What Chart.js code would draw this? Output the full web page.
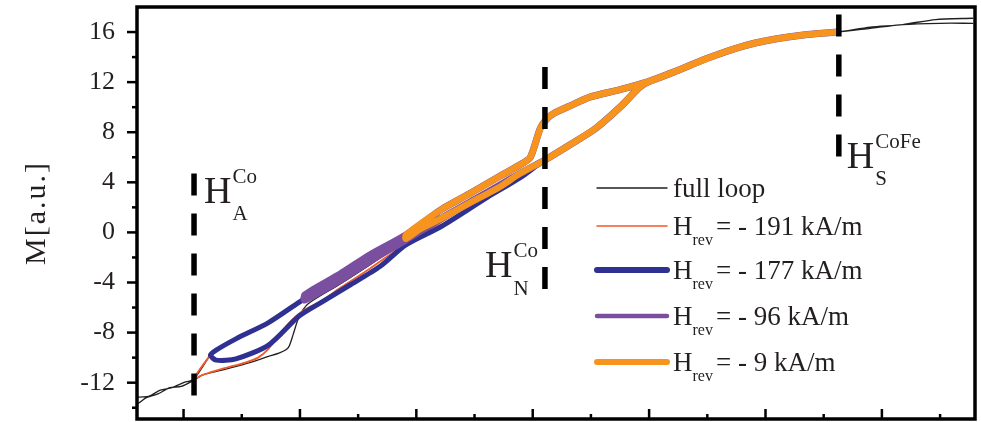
<!DOCTYPE html>
<html>
<head>
<meta charset="utf-8">
<title>M(H) first-order reversal curves</title>
<script src="https://cdn.jsdelivr.net/npm/chart.js@4.4.1/dist/chart.umd.min.js"></script>
<style>
  html, body { margin: 0; padding: 0; background: #fff; }
  #wrap { width: 981px; height: 422px; }
</style>
</head>
<body>
<div id="wrap"><canvas id="mh" width="981" height="422"></canvas></div>
<script>
/* =====================
   DATA  (H in kA/m, M in a.u.)
   ===================== */

// descending branch shared by every curve, from H_S down to -9 kA/m
const branchDownH = [362, 336, 306, 278, 250, 221, 198, 175, 149, 132, 118, 112.5, 106.5, 98, 91, 72, 46, 21, -9];
const branchDownM = [16.0, 15.8, 15.4, 14.8, 13.9, 12.8, 12.0, 11.4, 10.8, 10.1, 9.5, 9.1, 8.3, 6.0, 5.5, 4.5, 3.1, 1.8, -0.2];

// ascending branch shared by every curve, from 109 kA/m back to H_S
const branchUpH = [109, 132, 154, 175, 192, 199, 221, 250, 278, 306, 336, 362];
const branchUpM = [5.7, 7.0, 8.3, 10.0, 11.6, 12.0, 12.8, 13.9, 14.8, 15.4, 15.8, 16.0];

// full loop
const fullTopDownH = [478, 450, 418, 390];
const fullTopDownM = [16.7, 16.7, 16.6, 16.3];
const fullLowDownH = [-40, -65, -98, -127, -155, -172, -177, -191, -200, -210, -220, -230, -240];
const fullLowDownM = [-1.9, -3.4, -5.4, -7.2, -8.5, -9.4, -9.8, -11.7, -12.0, -12.4, -12.6, -13.1, -13.2];
const fullLowUpH = [-240, -232, -222, -212, -202, -191, -184, -167, -147, -127, -117, -110, -106, -101, -93, -65, -40, -9, 21, 61, 89];
const fullLowUpM = [-13.7, -13.2, -12.9, -12.4, -12.3, -11.8, -11.4, -11.0, -10.5, -9.9, -9.6, -9.2, -8.2, -6.8, -5.7, -4.1, -2.6, -0.7, 1.0, 3.3, 4.8];
const fullTopUpH = [390, 418, 446, 478];
const fullTopUpM = [16.4, 16.6, 17.0, 17.1];

// H_rev = -191 kA/m
const redDownH = [-40, -65, -98, -127, -155, -172, -177, -191];
const redDownM = [-1.9, -3.4, -5.4, -7.2, -8.5, -9.4, -9.8, -11.7];
const redUpH = [-184, -167, -147, -136, -127, -118, -110, -98, -82, -65, -40, -9, 21, 61, 89];
const redUpM = [-11.4, -10.9, -10.4, -10.0, -9.3, -8.2, -7.3, -6.3, -5.5, -4.4, -2.9, -0.9, 0.8, 3.2, 4.7];

// H_rev = -177 kA/m
const blueDownH = [-40, -65, -98, -127, -155, -172, -177];
const blueDownM = [-1.9, -3.4, -5.4, -7.2, -8.5, -9.4, -9.8];
const blueUpH = [-172, -155, -127, -101, -82, -57, -31, -9, 21, 61, 89];
const blueUpM = [-10.2, -10.1, -9.0, -6.7, -5.6, -4.2, -2.7, -1.0, 0.45, 2.8, 4.35];

// H_rev = -96 kA/m
const purpleDownH = [-40, -65, -96];
const purpleDownM = [-1.8, -3.3, -5.0];
const purpleUpH = [-96, -65, -40, -9, 21, 61, 89];
const purpleUpM = [-5.4, -3.8, -2.3, -0.6, 1.1, 3.2, 4.7];

// H_rev = -9 kA/m
const orangeUpH = [-9, 3, 21, 46, 72, 89];
const orangeUpM = [-0.5, 0.25, 1.1, 2.35, 3.65, 4.7];

// reversal fields of the legend entries
const revFields = [-191, -177, -96, -9];

// characteristic fields H_A^Co, H_N^Co, H_S^CoFe (dashed markers)
const markerH = [-191, 110.5, 363];
const markerTop = [4.7, 13.2, 17.4];
const markerBottom = [-13.4, -4.8, 5.9];
const markerSup = ['Co', 'Co', 'CoFe'];
const markerSub = ['A', 'N', 'S'];

// axis ticks
const yMajor = [-12, -8, -4, 0, 4, 8, 12, 16];
const yMinor = [-14, -10, -6, -2, 2, 6, 10, 14];
const xMajor = [-200, -100, 0, 100, 200, 300, 400];
const xMinor = [-150, -50, 50, 150, 250, 350, 450];

/* === helpers === */
function path(hs, ms) {
  return hs.map((h, i) => ({ x: h, y: ms[i] }));
}

const SERIF = '"Liberation Serif", "Times New Roman", serif';
const INK = '#231f20';

function curve(label, color, width, hs, ms) {
  return {
    label, data: path(hs, ms),
    showLine: true, borderColor: color, backgroundColor: color,
    borderWidth: width, pointRadius: 0, tension: 0.25, fill: false,
    borderJoinStyle: 'round', borderCapStyle: 'round'
  };
}

const markerSets = markerH.map((h, i) => ({
  label: 'marker' + i,
  data: [{ x: h, y: markerTop[i] }, { x: h, y: markerBottom[i] }],
  showLine: true, borderColor: '#000', borderWidth: 5.5,
  borderDash: [22, 18], pointRadius: 0, fill: false
}));

const series = [
  curve('- 9', '#f7941d', 6.5,
    [...branchDownH, ...orangeUpH, ...branchUpH],
    [...branchDownM, ...orangeUpM, ...branchUpM]),
  curve('- 96', '#7b4fa0', 7,
    [...branchDownH, ...purpleDownH, ...purpleUpH, ...branchUpH],
    [...branchDownM, ...purpleDownM, ...purpleUpM, ...branchUpM]),
  curve('- 177', '#2e3192', 5,
    [...branchDownH, ...blueDownH, ...blueUpH, ...branchUpH],
    [...branchDownM, ...blueDownM, ...blueUpM, ...branchUpM]),
  curve('- 191', '#f15a29', 1.8,
    [...branchDownH, ...redDownH, ...redUpH, ...branchUpH],
    [...branchDownM, ...redDownM, ...redUpM, ...branchUpM]),
  curve('full loop', INK, 1.3,
    [...fullTopDownH, ...branchDownH, ...fullLowDownH, ...fullLowUpH, ...branchUpH, ...fullTopUpH],
    [...fullTopDownM, ...branchDownM, ...fullLowDownM, ...fullLowUpM, ...branchUpM, ...fullTopUpM])
];

/* === frame + ticks (y ticks outward, x ticks inward) === */
const axisFrame = {
  id: 'axisFrame',
  afterDatasetsDraw(chart) {
    const { ctx, chartArea: a, scales: { x, y } } = chart;
    ctx.save();
    ctx.strokeStyle = '#000';
    ctx.lineCap = 'butt';
    ctx.lineWidth = 2.5;
    const seg = (x1, y1, x2, y2) => { ctx.beginPath(); ctx.moveTo(x1, y1); ctx.lineTo(x2, y2); ctx.stroke(); };
    xMajor.forEach(v => { const p = x.getPixelForValue(v); seg(p, a.bottom, p, a.bottom - 10); });
    xMinor.forEach(v => { const p = x.getPixelForValue(v); seg(p, a.bottom, p, a.bottom - 5); });
    yMajor.forEach(v => { const p = y.getPixelForValue(v); seg(a.left, p, a.left - 10, p); });
    yMinor.forEach(v => { const p = y.getPixelForValue(v); seg(a.left, p, a.left - 5, p); });
    ctx.lineWidth = 3.5;
    ctx.strokeRect(a.left, a.top, a.right - a.left, a.bottom - a.top);

    // y title
    ctx.translate(37, (a.top + a.bottom) / 2);
    ctx.rotate(-Math.PI / 2);
    ctx.fillStyle = INK;
    ctx.font = '30px ' + SERIF;
    ctx.textAlign = 'center';
    ctx.textBaseline = 'middle';
    ctx.letterSpacing = '2px';
    ctx.fillText('M[a.u.]', 0, 0);
    ctx.restore();
  }
};

/* === H with super/subscript === */
function drawField(ctx, x, y, size, sup, sub, supSize) {
  ctx.font = size + 'px ' + SERIF;
  ctx.fillText('H', x, y);
  const w = ctx.measureText('H').width;
  ctx.font = supSize + 'px ' + SERIF;
  if (sup) ctx.fillText(sup, x + w + 1, y - size * 0.53);
  if (sub) ctx.fillText(sub, x + w + 1, y + size * 0.45);
  return w;
}

/* === labels on the dashed markers + legend === */
const markerOffsets = [{ dx: 10, m: 2.35 }, { dx: -60, m: -3.6 }, { dx: 8, m: 5.15 }];

const curveLegend = {
  id: 'curveLegend',
  afterDraw(chart) {
    const { ctx, scales: { x, y } } = chart;
    ctx.save();
    ctx.fillStyle = INK;
    ctx.textAlign = 'left';
    ctx.textBaseline = 'alphabetic';

    markerH.forEach((h, i) => {
      const px = x.getPixelForValue(h) + markerOffsets[i].dx;
      const py = y.getPixelForValue(markerOffsets[i].m);
      drawField(ctx, px, py, 38, markerSup[i], markerSub[i], 21);
    });

    // rows: full loop, then the reversal curves
    const rows = [188, 226, 270, 316, 362];
    const order = [4, 3, 2, 1, 0];
    const x0 = 597, x1 = 667, tx = 673;
    order.forEach((di, r) => {
      const ds = chart.data.datasets[markerSets.length + di];
      const ry = rows[r];
      ctx.strokeStyle = ds.borderColor;
      ctx.lineCap = 'round';
      ctx.lineWidth = [1.3, 1.5, 6, 4.5, 6][r];
      ctx.beginPath(); ctx.moveTo(x0, ry); ctx.lineTo(x1, ry); ctx.stroke();
      ctx.font = '27px ' + SERIF;
      if (r === 0) {
        ctx.fillText(ds.label, tx, ry + 9);
      } else {
        ctx.fillText('H', tx, ry + 9);
        const hw = ctx.measureText('H').width;
        ctx.font = '16px ' + SERIF;
        ctx.fillText('rev', tx + hw, ry + 19);
        const rw = ctx.measureText('rev').width;
        ctx.font = '27px ' + SERIF;
        ctx.fillText('= - ' + Math.abs(revFields[r - 1]) + ' kA/m', tx + hw + rw + 3, ry + 9);
      }
    });
    ctx.restore();
  }
};

const chart = new Chart(document.getElementById('mh'), {
  type: 'scatter',
  data: { datasets: [...markerSets, ...series] },
  options: {
    responsive: false,
    animation: false,
    devicePixelRatio: 1,
    layout: { padding: { top: 7, right: 6, bottom: 3, left: 0 } },
    plugins: { legend: { display: false }, tooltip: { enabled: false } },
    scales: {
      x: { type: 'linear', min: -240, max: 480, display: false },
      y: {
        type: 'linear', min: -14.9, max: 18,
        afterBuildTicks: s => { s.ticks = yMajor.map(v => ({ value: v })); },
        afterFit: s => { s.width = 137; s.paddingTop = 0; s.paddingBottom = 0; },
        grid: { display: false, drawTicks: false },
        border: { display: false },
        ticks: { color: INK, padding: 22, font: { family: SERIF, size: 26 } }
      }
    }
  },
  plugins: [axisFrame, curveLegend]
});
</script>
</body>
</html>
